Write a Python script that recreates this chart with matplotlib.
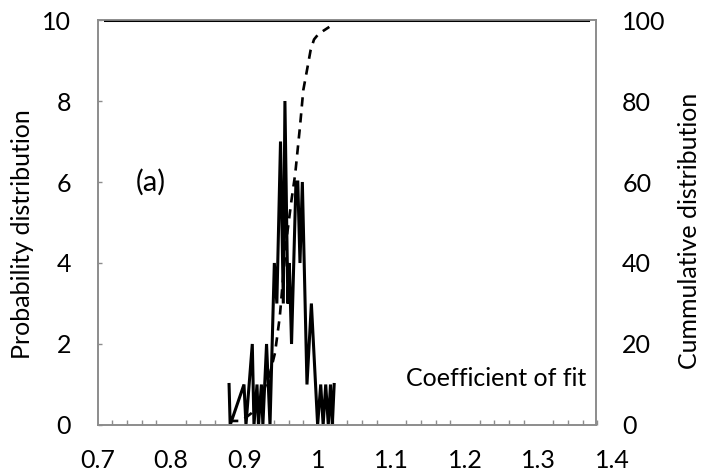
import matplotlib
matplotlib.use("Agg")
import matplotlib.pyplot as plt

plt.rcParams['font.family'] = ['Lato', 'DejaVu Sans']

# probability distribution (solid line)
prob_x = [0.879, 0.8805, 0.8993, 0.902, 0.9106, 0.9129, 0.917, 0.919, 0.923, 0.925,
          0.930, 0.9347, 0.9406, 0.944, 0.949, 0.9528, 0.955, 0.959, 0.961, 0.964,
          0.970, 0.9725, 0.9755, 0.9787, 0.985, 0.991, 0.9995, 1.0037, 1.007, 1.0105,
          1.014, 1.017, 1.0195, 1.022]
prob_y = [1, 0, 1, 0, 2, 0, 1, 0, 1, 0,
          2, 0, 4, 3, 7, 3, 8, 3, 4, 2,
          6, 6, 4, 6, 1, 3, 0, 1, 0, 1,
          0, 1, 0, 1]

# cumulative distribution (dashed line)
cum_x = [0.879, 0.894, 0.903, 0.910, 0.921, 0.9347, 0.9415, 0.948, 0.957, 0.964,
         0.969, 0.9755, 0.980, 0.9846, 0.990, 0.9946, 1.000, 1.007, 1.0154]
cum_y = [1.0, 1.0, 2.0, 3.0, 6.0, 12.8, 17.8, 26.7, 45.7, 55.6,
         62.0, 73.7, 82.7, 87.2, 92.6, 95.2, 96.4, 97.3, 98.3]

# upper bound line at 100 %
top_x = [0.71, 1.3675]
top_y = [100, 100]

fig = plt.figure(figsize=(7.04, 4.73), dpi=100)
ax = fig.add_axes([0.1385, 0.1015, 0.7308, 0.8562])
ax2 = ax.twinx()

ax.plot(prob_x, prob_y, color='black', linewidth=2.2, solid_joinstyle='miter')
ax2.plot(cum_x, cum_y, color='black', linewidth=1.9, linestyle=(0, (3.5, 2.6)))
ax2.plot(top_x, top_y, color='black', linewidth=2.2)

ax.set_xlim(0.7, 1.4)
ax.set_ylim(0, 10)
ax2.set_ylim(0, 100)

frame_end = 1.378
frame_col = '#8c8c8c'
for a in (ax, ax2):
    for s in a.spines.values():
        s.set_color(frame_col)
        s.set_linewidth(1.2)
    a.spines['right'].set_position(('data', frame_end))
    a.spines['top'].set_bounds(0.7, frame_end)
    a.spines['bottom'].set_bounds(0.7, frame_end)

fs = 18
ax.set_xticks([0.7, 0.8, 0.9, 1.0, 1.1, 1.2, 1.3, 1.4])
ax.set_xticklabels(['0.7', '0.8', '0.9', '1', '1.1', '1.2', '1.3', '1.4'])
ax.set_xticks([0.7 + 0.02 * i for i in range(35)], minor=True)
ax.tick_params(axis='x', which='both', direction='in', length=3.5, width=1,
               color=frame_col, labelsize=fs, pad=17)
ax.tick_params(axis='x', which='major', length=0)
ax.set_yticks([0, 2, 4, 6, 8, 10])
ax.tick_params(axis='y', direction='in', length=3, width=1, color=frame_col,
               labelsize=fs, pad=19)
ax2.set_yticks([0, 20, 40, 60, 80, 100])
ax2.tick_params(axis='y', length=0, labelsize=fs, pad=19)

# axis titles placed in figure coordinates
fig.text(0.032, 0.504, 'Probability distribution', fontsize=fs,
         rotation=90, ha='center', va='center')
fig.text(0.980, 0.512, 'Cummulative distribution', fontsize=fs,
         rotation=90, ha='center', va='center')

ax.text(0.752, 6.0, '(a)', fontsize=21, ha='left', va='center')
ax.text(1.12, 1.15, 'Coefficient of fit', fontsize=fs, ha='left', va='center')

fig.savefig('out.png', dpi=100)
